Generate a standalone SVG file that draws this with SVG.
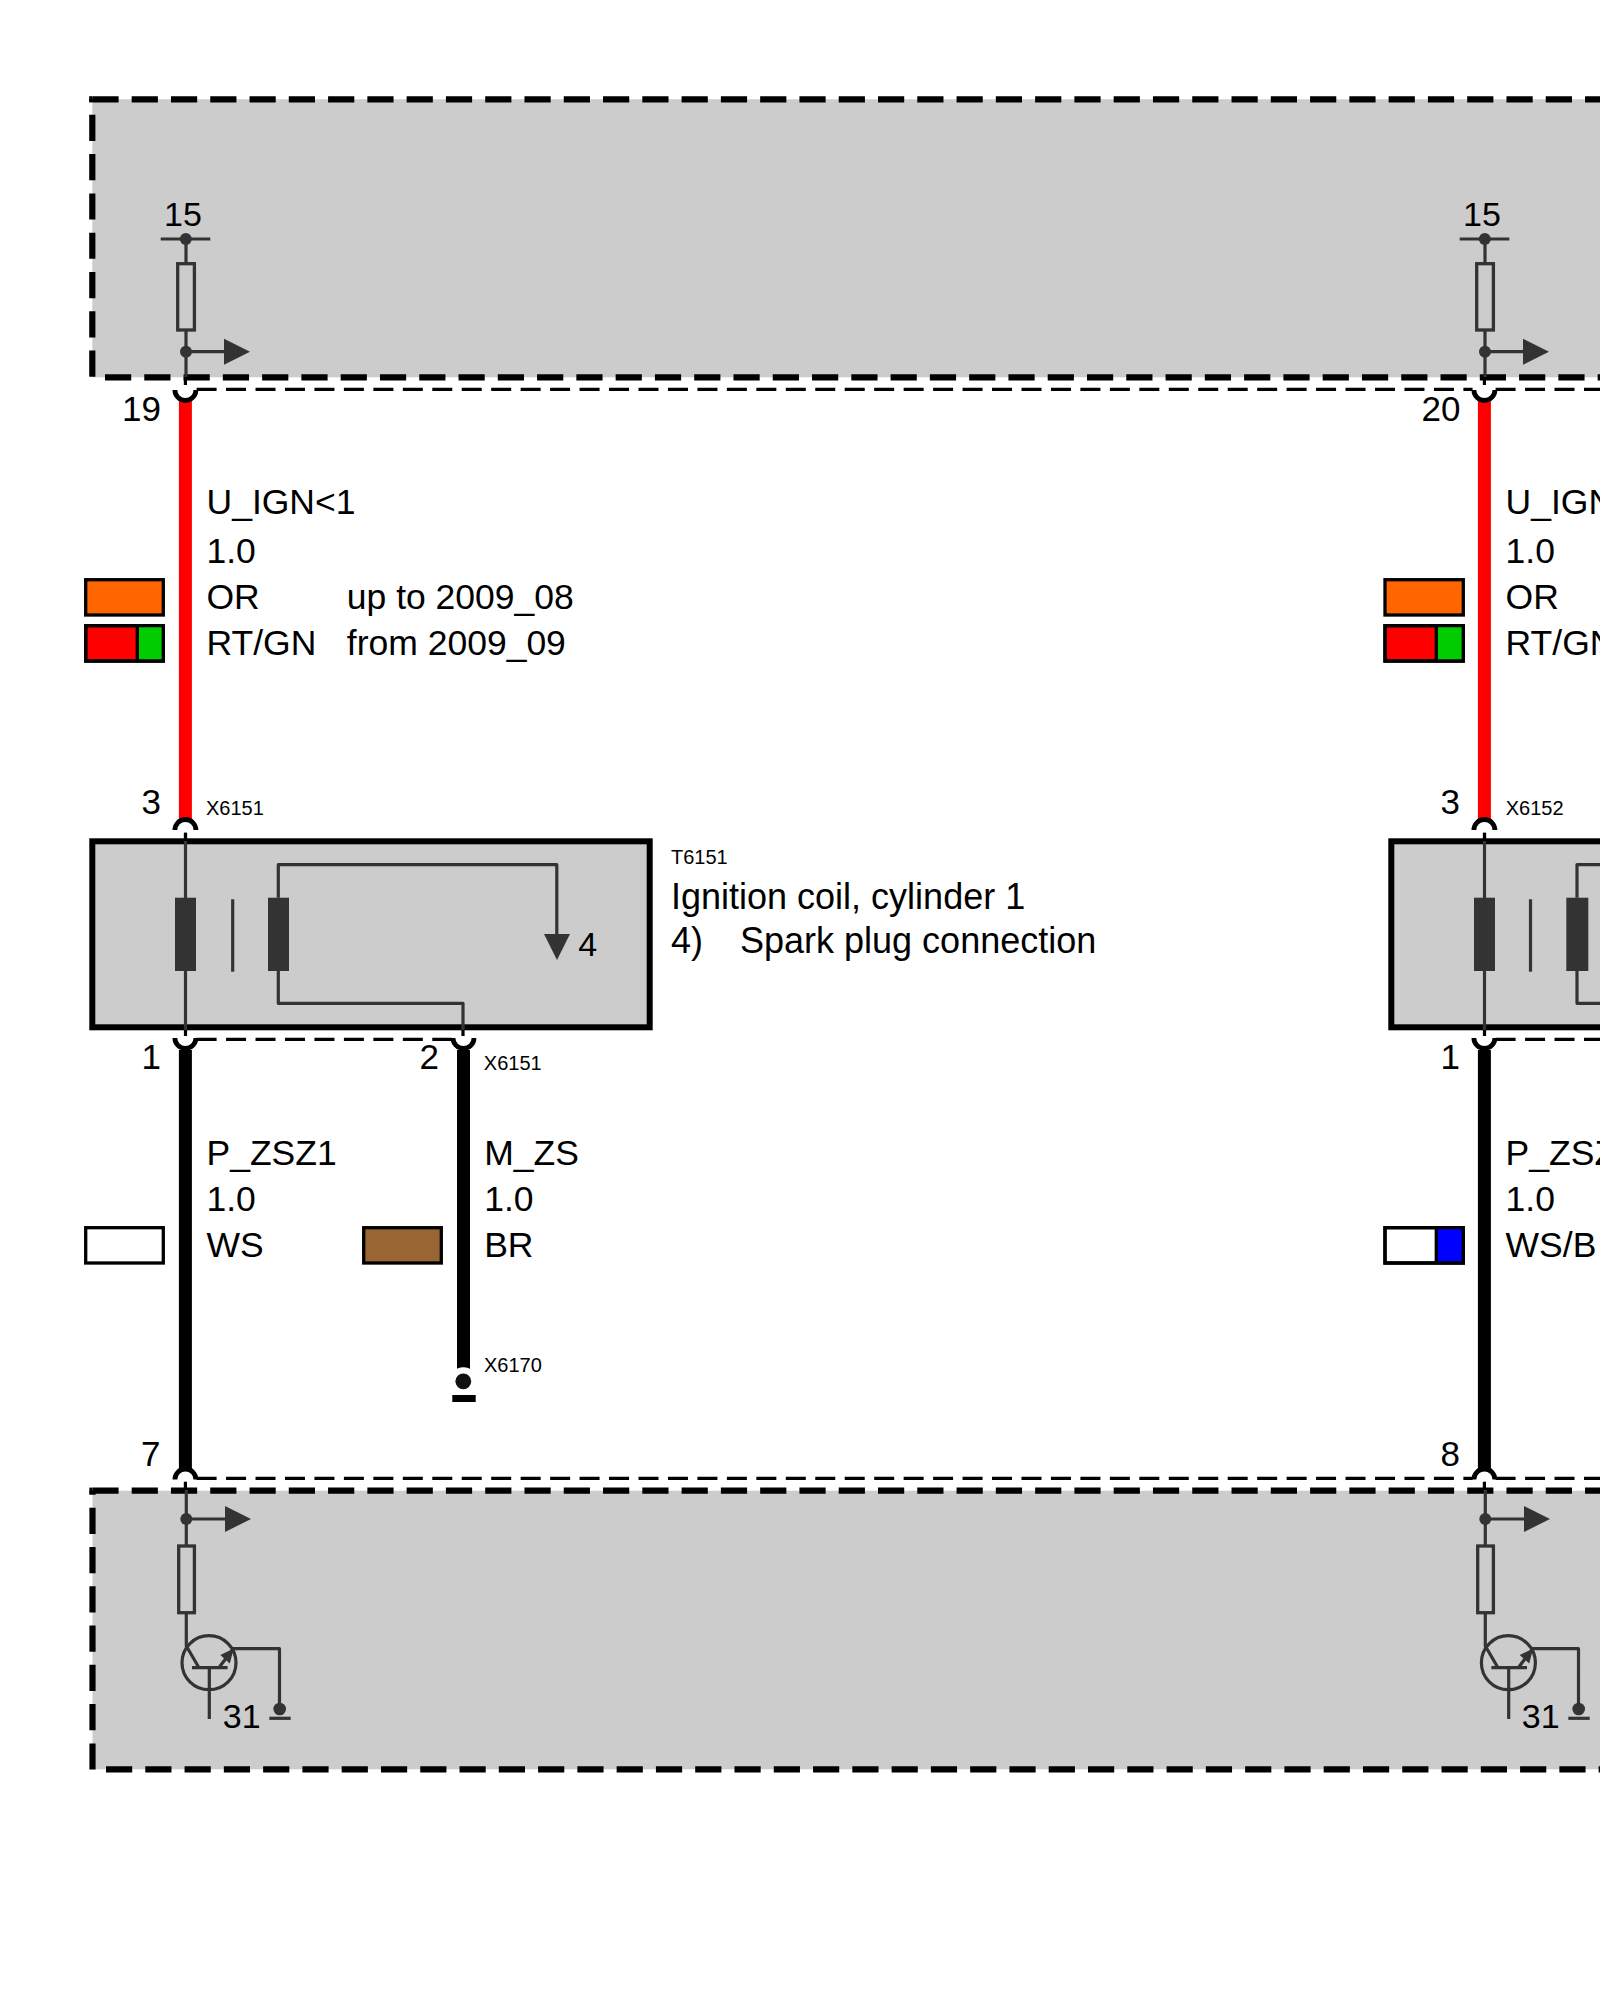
<svg xmlns="http://www.w3.org/2000/svg" width="1600" height="2000" viewBox="0 0 1600 2000">
<style>
text{font-family:"Liberation Sans",Arial,sans-serif;fill:#000}
.t{font-size:34px}
.p{font-size:35px}
.l{font-size:35.5px}
.d{font-size:36px}
.s{font-size:20px}
.e{text-anchor:end}
.grey{fill:#ccc;stroke:none}
.border{fill:none;stroke:#000;stroke-width:6.2;stroke-dasharray:26.2 13.08}
.box{fill:#ccc;stroke:#000;stroke-width:6}
.thin{fill:none;stroke:#333;stroke-width:3.2;stroke-linejoin:round}
.tip{fill:none;stroke:#000;stroke-width:3.2}
.res{fill:none;stroke:#333;stroke-width:3.3}
.dk{fill:#333;stroke:none}
.dash{fill:none;stroke:#000;stroke-width:3.2;stroke-dasharray:20 9.46}
.arc{fill:none;stroke:#000;stroke-width:4.8}
.wire-r{fill:none;stroke:#f00;stroke-width:13}
.wire-k{fill:none;stroke:#000;stroke-width:13}
.sw{stroke:#000;stroke-width:3.3}
.div{stroke:#000;stroke-width:3.3;fill:none}
</style>
<g id="housing-top">
<rect class="grey" x="92.3" y="99.3" width="1507.7" height="278"/>
<path class="border" d="M92.3 376.7V99.3"/>
<path class="border" d="M89.2 99.3H92.4"/>
<path class="border" d="M92.4 99.3H1600"/>
<path class="border" d="M105 377.3H1600"/>
</g>
<g id="housing-bottom">
<rect class="grey" x="92.5" y="1490.7" width="1507.5" height="278.6"/>
<path class="border" d="M92.5 1769.6V1490.7"/>
<path class="border" d="M89.4 1490.7H92.4"/>
<path class="border" d="M92.4 1490.7H1600"/>
<path class="border" d="M106 1769.3H1600"/>
</g>
<g id="coil-T6151">
<rect class="box" x="92.3" y="841.3" width="557.4" height="186"/>
<rect class="dk" x="175" y="897.7" width="21" height="73.3"/>
<path class="thin" d="M232.7 899.3V971.7"/>
<rect class="dk" x="268" y="897.7" width="21" height="73.3"/>
<path class="thin" d="M278.3 897.7V864.7H556.8V936"/>
<path class="dk" d="M544 934H570L557 960Z"/>
<path class="thin" d="M278.3 971V1003.3H463V1030"/>
<text class="t" x="578.3" y="956.3">4</text>
<text class="s" x="671" y="864">T6151</text>
<text class="d" x="671" y="909">Ignition coil, cylinder 1</text>
<text class="d" x="671" y="952.7">4)</text>
<text class="d" x="740" y="952.7">Spark plug connection</text>
</g>
<g id="coil-T6152">
<rect class="box" x="1391.3" y="841.3" width="557.4" height="186"/>
<rect class="dk" x="1474" y="897.7" width="21" height="73.3"/>
<path class="thin" d="M1530.5 899.3V971.7"/>
<rect class="dk" x="1566.3" y="897.7" width="22" height="73.3"/>
<path class="thin" d="M1577 897.7V864.7H1600"/>
<path class="thin" d="M1577 971V1003.3H1600"/>
</g>
<g id="connectors">
<path class="dash" d="M196.6 389.3H1472.6"/>
<path class="dash" d="M1495.6 389.3H1600"/>
<path class="dash" d="M196.6 1039.3H452"/>
<path class="dash" d="M1495.6 1039.3H1600"/>
<path class="dash" d="M196.6 1478.3H1472.6"/>
<path class="dash" d="M1495.6 1478.3H1600"/>

<path class="wire-r" d="M185.4 401V819"/>
<path class="wire-k" d="M185.4 1050V1470"/>
<path class="wire-k" d="M463.5 1050V1372"/>
<path class="wire-r" d="M1484.4 401V819"/>
<path class="wire-k" d="M1484.4 1050V1470"/>
<circle cx="463.4" cy="1381.3" r="14" fill="#fff"/>

<path class="arc" d="M174.9 390A10.5 10.5 0 0 0 195.9 390"/>
<path class="arc" d="M174.9 830A10.5 10.5 0 0 1 195.9 830"/>
<path class="arc" d="M174.9 1038A10.5 10.5 0 0 0 195.9 1038"/>
<path class="arc" d="M453 1038A10.5 10.5 0 0 0 474 1038"/>
<path class="arc" d="M174.9 1479.5A10.5 10.5 0 0 1 195.9 1479.5"/>
<path class="arc" d="M1473.9 390A10.5 10.5 0 0 0 1494.9 390"/>
<path class="arc" d="M1473.9 830A10.5 10.5 0 0 1 1494.9 830"/>
<path class="arc" d="M1473.9 1038A10.5 10.5 0 0 0 1494.9 1038"/>
<path class="arc" d="M1473.9 1479.5A10.5 10.5 0 0 1 1494.9 1479.5"/>

<path class="thin" d="M185.5 832.7V1030"/>
<path class="tip" d="M185.5 832.7V841M185.5 1030V1036"/>
<path class="tip" d="M463 1030V1036"/>
<path class="thin" d="M1484.5 832.7V1030"/>
<path class="tip" d="M1484.5 832.7V841M1484.5 1030V1036"/>
</g>
<g id="ecu-left-top">
<path class="thin" d="M160.7 239H210.3"/>
<circle class="dk" cx="185.8" cy="239" r="6"/>
<path class="thin" d="M186 239V263M186 331V377"/>
<path class="tip" d="M185.4 377V385"/>
<rect class="res" x="177.7" y="263.7" width="16.7" height="66.3"/>
<circle class="dk" cx="186" cy="351.7" r="6"/>
<path class="thin" d="M186 351.7H226"/>
<path class="dk" d="M224 338.7L250 351.7L224 364.7Z"/>
<text class="t" x="183" y="225.7" text-anchor="middle">15</text>
<text class="p e" x="161" y="421.3">19</text>
</g>
<g id="ecu-right-top">
<path class="thin" d="M1459.7 239H1509.3"/>
<circle class="dk" cx="1484.8" cy="239" r="6"/>
<path class="thin" d="M1485 239V263M1485 331V377"/>
<path class="tip" d="M1484.4 377V385"/>
<rect class="res" x="1476.7" y="263.7" width="16.7" height="66.3"/>
<circle class="dk" cx="1485" cy="351.7" r="6"/>
<path class="thin" d="M1485 351.7H1525"/>
<path class="dk" d="M1523 338.7L1549 351.7L1523 364.7Z"/>
<text class="t" x="1482" y="225.7" text-anchor="middle">15</text>
<text class="p e" x="1460.5" y="421.3">20</text>
</g>
<g id="ecu-left-bottom">
<path class="tip" d="M185.4 1481.7V1490"/>
<path class="thin" d="M186.3 1490V1546M186.3 1613V1646L199 1667.7"/>
<circle class="dk" cx="186.3" cy="1519" r="6"/>
<path class="thin" d="M186.3 1519H227"/>
<path class="dk" d="M225 1506L251 1519L225 1532Z"/>
<rect class="res" x="178.7" y="1546" width="15.7" height="66.7"/>
<circle class="thin" cx="209" cy="1662.7" r="27"/>
<path class="thin" d="M192 1667.7H227.6M209.3 1667.7V1719M219.6 1666.7L233.3 1648.7H279.5V1705"/>
<path class="dk" d="M233.8 1648.5L229.8 1663.5L220.3 1655Z"/>
<circle class="dk" cx="279.7" cy="1709" r="6.3"/>
<path class="thin" d="M269.3 1718.3H290.7"/>
<text class="t" x="222.8" y="1727.7">31</text>
<text class="p e" x="160.5" y="1466">7</text>
</g>
<g id="ecu-right-bottom">
<path class="tip" d="M1484.4 1481.7V1490"/>
<path class="thin" d="M1485.3 1490V1546M1485.3 1613V1646L1498 1667.7"/>
<circle class="dk" cx="1485.3" cy="1519" r="6"/>
<path class="thin" d="M1485.3 1519H1526"/>
<path class="dk" d="M1524 1506L1550 1519L1524 1532Z"/>
<rect class="res" x="1477.7" y="1546" width="15.7" height="66.7"/>
<circle class="thin" cx="1508.4" cy="1662.7" r="27"/>
<path class="thin" d="M1491.4 1667.7H1527M1508.7 1667.7V1719M1519 1666.7L1532.7 1648.7H1578.5V1705"/>
<path class="dk" d="M1533.2 1648.5L1529.2 1663.5L1519.7 1655Z"/>
<circle class="dk" cx="1578.7" cy="1709" r="6.3"/>
<path class="thin" d="M1568.3 1718.3H1589.7"/>
<text class="t" x="1521.8" y="1727.7">31</text>
<text class="p e" x="1460" y="1466">8</text>
</g>
<g id="ground-X6170">
<circle cx="463.3" cy="1381.3" r="7.9" fill="#111"/>
<rect x="452.3" y="1395" width="23.4" height="7" fill="#000"/>
<text class="s" x="484" y="1371.7">X6170</text>
</g>
<g id="labels-1">
<text class="l" x="206.5" y="513.5">U_IGN&lt;1</text>
<text class="l" x="206.5" y="562.7">1.0</text>
<text class="l" x="206.5" y="609">OR</text>
<text class="l" x="206.5" y="654.7">RT/GN</text>
<text class="l" x="346.8" y="609">up to 2009_08</text>
<text class="l" x="346.8" y="654.7">from 2009_09</text>
<rect class="sw" x="85.7" y="579.7" width="77.6" height="35.3" fill="#f60"/>
<rect class="sw" x="85.7" y="625.7" width="77.6" height="35.3" fill="#f00"/>
<rect x="137.3" y="625.7" width="26" height="35.3" fill="#0c0"/>
<path class="div" d="M137.3 625.7V661M85.7 625.7H163.3V661H85.7Z"/>
<text class="p e" x="161" y="814.3">3</text>
<text class="s" x="206" y="815">X6151</text>
<text class="p e" x="161" y="1069.3">1</text>
<text class="p e" x="439" y="1069.3">2</text>
<text class="s" x="483.8" y="1070">X6151</text>
<text class="l" x="206.5" y="1165">P_ZSZ1</text>
<text class="l" x="206.5" y="1211">1.0</text>
<text class="l" x="206.5" y="1256.7">WS</text>
<rect class="sw" x="85.7" y="1227.7" width="77.6" height="35.3" fill="#fff"/>
<text class="l" x="484.2" y="1165">M_ZS</text>
<text class="l" x="484.2" y="1211">1.0</text>
<text class="l" x="484.2" y="1256.7">BR</text>
<rect class="sw" x="363.7" y="1227.7" width="77.6" height="35.3" fill="#963"/>
</g>
<g id="labels-2">
<text class="l" x="1505.6" y="513.5">U_IGN</text>
<text class="l" x="1505.6" y="562.7">1.0</text>
<text class="l" x="1505.6" y="609">OR</text>
<text class="l" x="1505.6" y="654.7">RT/GN</text>
<rect class="sw" x="1385" y="579.7" width="78.3" height="35.3" fill="#f60"/>
<rect class="sw" x="1385" y="625.7" width="78.3" height="35.3" fill="#f00"/>
<rect x="1436.3" y="625.7" width="27" height="35.3" fill="#0c0"/>
<path class="div" d="M1436.3 625.7V661M1385 625.7H1463.3V661H1385Z"/>
<text class="p e" x="1460" y="814.3">3</text>
<text class="s" x="1505.7" y="815">X6152</text>
<text class="p e" x="1460" y="1069.3">1</text>
<text class="l" x="1505.6" y="1165">P_ZSZ</text>
<text class="l" x="1505.6" y="1211">1.0</text>
<text class="l" x="1505.6" y="1256.7">WS/B</text>
<rect class="sw" x="1385" y="1227.7" width="78.3" height="35.3" fill="#fff"/>
<rect x="1436.3" y="1227.7" width="27" height="35.3" fill="#00f"/>
<path class="div" d="M1436.3 1227.7V1263M1385 1227.7H1463.3V1263H1385Z"/>
</g>
</svg>
